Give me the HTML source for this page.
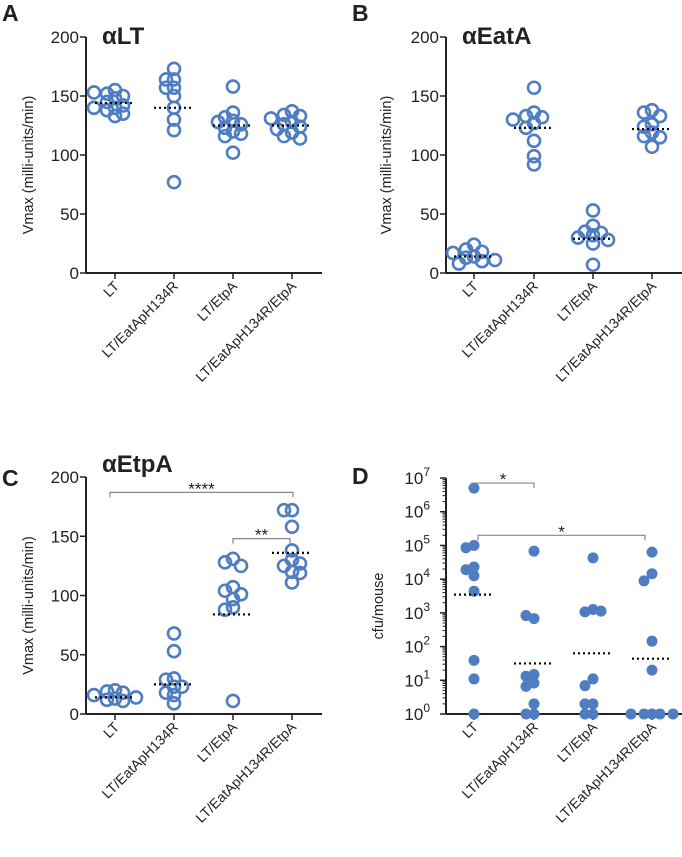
<!DOCTYPE html>
<html><head><meta charset="utf-8"><style>
body{margin:0;background:#fff;width:682px;height:857px;overflow:hidden}
svg{display:block}
text{font-family:"Liberation Sans","DejaVu Sans",sans-serif;fill:#222}
</style></head><body>
<svg id="fig" width="682" height="857" viewBox="0 0 682 857" xmlns="http://www.w3.org/2000/svg"></svg>
<script>
const categories=["LT","LT/EatApH134R","LT/EtpA","LT/EatApH134R/EtpA"];
const yTicksLin=[0,50,100,150,200];
const yTickExpD=[0,1,2,3,4,5,6,7];
const aValues=[[155,152,150,148,145,142,140,138,135,133,140,153],[173,164,164,157,157,150,140,130,121,77],[158,136,132,129,126,123,120,116,102,128,118],[137,134,133,131,128,126,124,122,119,116,114]];
const aMedians=[144,140,125,125];
const bValues=[[24,20,18,14,13,10,8,17,11],[157,136,133,132,130,127,123,112,99,92],[53,40,35,34,32,30,28,25,7],[138,136,133,126,124,119,116,115,107]];
const bMedians=[14,123,29,122];
const cValues=[[20,19,18,16,13,12,11,14],[68,53,30,29,23,18,16,9,23],[131,128,125,107,104,101,97,90,88,11],[172,172,158,138,130,125,120,119,111,127]];
const cMedians=[14,25,84,136];
const dLogValues=[[6.7,5.0,4.93,4.36,4.28,4.1,3.64,1.59,1.04,0],[4.83,2.83,2.92,1.17,1.12,0.92,0.82,0.3,0,0],[4.63,3.1,3.03,3.05,1.04,0.84,0.3,0.3,0,0],[4.8,4.16,3.95,2.16,1.3,0,0,0,0,0]];
const dLogMedians=[3.54,1.5,1.8,1.64];

const NS="http://www.w3.org/2000/svg";
const svg=document.getElementById('fig');
const BLUE="#4e7dc1";
function mk(tag,attrs,parent){const e=document.createElementNS(NS,tag);for(const k in attrs)e.setAttribute(k,attrs[k]);(parent||svg).appendChild(e);return e;}

function panel(p){
  const g=mk('g',{});
  
  
  const xs=i=>p.cx[i];
  const ys=v=>p.y0-(v-p.vmin)/(p.vmax-p.vmin)*(p.y0-p.ytop);
  const L=mk('text',{x:p.lx,y:p.ly,'font-size':23,'font-weight':'bold',fill:'#000'},g);L.textContent=p.letter;
  
  if(p.title){const t=mk('text',{x:p.ax+16,y:p.ty,'font-size':24,'font-weight':'bold',fill:'#111'},g);t.textContent=p.title;
    }
  const ya=mk('line',{x1:p.ax,y1:p.ytop,x2:p.ax,y2:p.y0,stroke:'#222','stroke-width':2},g);
  
  const xa=mk('line',{x1:p.ax,y1:p.y0,x2:p.xend,y2:p.y0,stroke:'#222','stroke-width':2},g);
  
  if(!p.log){
    p.ticks.forEach(v=>{const y=ys(v);mk('line',{x1:p.ax-6,y1:y,x2:p.ax,y2:y,stroke:'#222','stroke-width':1.5},g);
      const t=mk('text',{x:p.ax-7,y:y+6,'font-size':17,'text-anchor':'end'},g);t.textContent=v;
      });
  } else {
    p.ticks.forEach(e=>{const y=ys(e);mk('line',{x1:p.ax-6,y1:y,x2:p.ax,y2:y,stroke:'#222','stroke-width':1.5},g);
      if(e<7){for(let k=2;k<10;k++){const yy=ys(e+Math.log10(k));mk('line',{x1:p.ax-3.5,y1:yy,x2:p.ax,y2:yy,stroke:'#222','stroke-width':1},g);}}
      const t=mk('text',{x:p.ax-16,y:y+6,'font-size':17,'text-anchor':'end'},g);
      
      const a=mk('tspan',{},t);a.textContent='10';const b=mk('tspan',{dy:-8,'font-size':12},t);b.textContent=e;});
  }
  const yl=mk('text',{transform:`translate(${p.ylx},${(p.ytop+p.y0)/2+10}) rotate(-90)`,'font-size':14.5,'text-anchor':'middle'},g);
  yl.textContent=p.ylabel;
  categories.forEach((c,i)=>{const x=xs(i);mk('line',{x1:x,y1:p.y0,x2:x,y2:p.y0+6,stroke:'#222','stroke-width':1.5},g);
    const t=mk('text',{transform:`translate(${x+5},${p.y0+14}) rotate(-45)`,'font-size':14,'text-anchor':'end'},g);t.textContent=c;
    });
  p.values.forEach((arr,i)=>{
    const used=[];
    arr.forEach((v,j)=>{
      const y=ys(v);
      const offs=[0,-8,8,-15,15,-21,21];let x=xs(i);
      const th=p.filled?8:8;
      for(const o of offs){const cx=xs(i)+o;if(used.every(u=>Math.hypot(u[0]-cx,u[1]-y)>=th)){x=cx;break;}}
      used.push([x,y]);
      const c=p.filled?mk('circle',{cx:x,cy:y,r:5.5,fill:BLUE},g):mk('circle',{cx:x,cy:y,r:6,fill:'none',stroke:BLUE,'stroke-width':2.6},g);
      
    });
    const m=ys(p.medians[i]);
    const ml=mk('line',{x1:xs(i)-20,y1:m,x2:xs(i)+20,y2:m,stroke:'#000','stroke-width':2.2,'stroke-dasharray':'2 3'},g);
    
  });
  (p.brackets||[]).forEach(b=>{
    const y=ys(b.v);const x1=xs(b.a)+(b.da||0),x2=xs(b.b)+(b.db||0);
    mk('path',{d:`M${x1},${y+5}V${y}H${x2}V${y+5}`,fill:'none',stroke:'#888','stroke-width':1.2},g);
    const t=mk('text',{x:(x1+x2)/2,y:y+2,'font-size':17,'text-anchor':'middle',fill:'#111'},g);t.textContent=b.s;
    
  });
}
const cxL=[115,174,233,292],cxR=[474,534,593,652];
panel({name:'panel-a-alpha-lt',letter:'A',lx:2,ly:21,title:'αLT',ty:44,ax:86,xend:322,ytop:37,y0:273,vmin:0,vmax:200,ticks:yTicksLin,cx:cxL,values:aValues,medians:aMedians,ylabel:'Vmax (milli-units/min)',ylx:33});
panel({name:'panel-b-alpha-eata',letter:'B',lx:352,ly:21,title:'αEatA',ty:44,ax:446,xend:682,ytop:37,y0:273,vmin:0,vmax:200,ticks:yTicksLin,cx:cxR,values:bValues,medians:bMedians,ylabel:'Vmax (milli-units/min)',ylx:391});
panel({name:'panel-c-alpha-etpa',letter:'C',lx:2,ly:486,title:'αEtpA',ty:472,ax:86,xend:322,ytop:477,y0:714,vmin:0,vmax:200,ticks:yTicksLin,cx:cxL,values:cValues,medians:cMedians,ylabel:'Vmax (milli-units/min)',ylx:33,
  brackets:[{a:0,b:3,v:187,s:'****',da:-5,db:1},{a:2,b:3,v:148,s:'**',db:-2}]});
panel({name:'panel-d-cfu',letter:'D',lx:352,ly:484,title:null,ax:446,xend:682,ytop:478,y0:714,vmin:0,vmax:7,ticks:yTickExpD,cx:cxR,values:dLogValues,medians:dLogMedians,ylabel:'cfu/mouse',ylx:383,log:true,filled:true,
  brackets:[{a:0,b:1,v:6.85,s:'*',da:-2},{a:0,b:3,v:5.3,s:'*',da:4,db:-7}]});
</script>
</body></html>
